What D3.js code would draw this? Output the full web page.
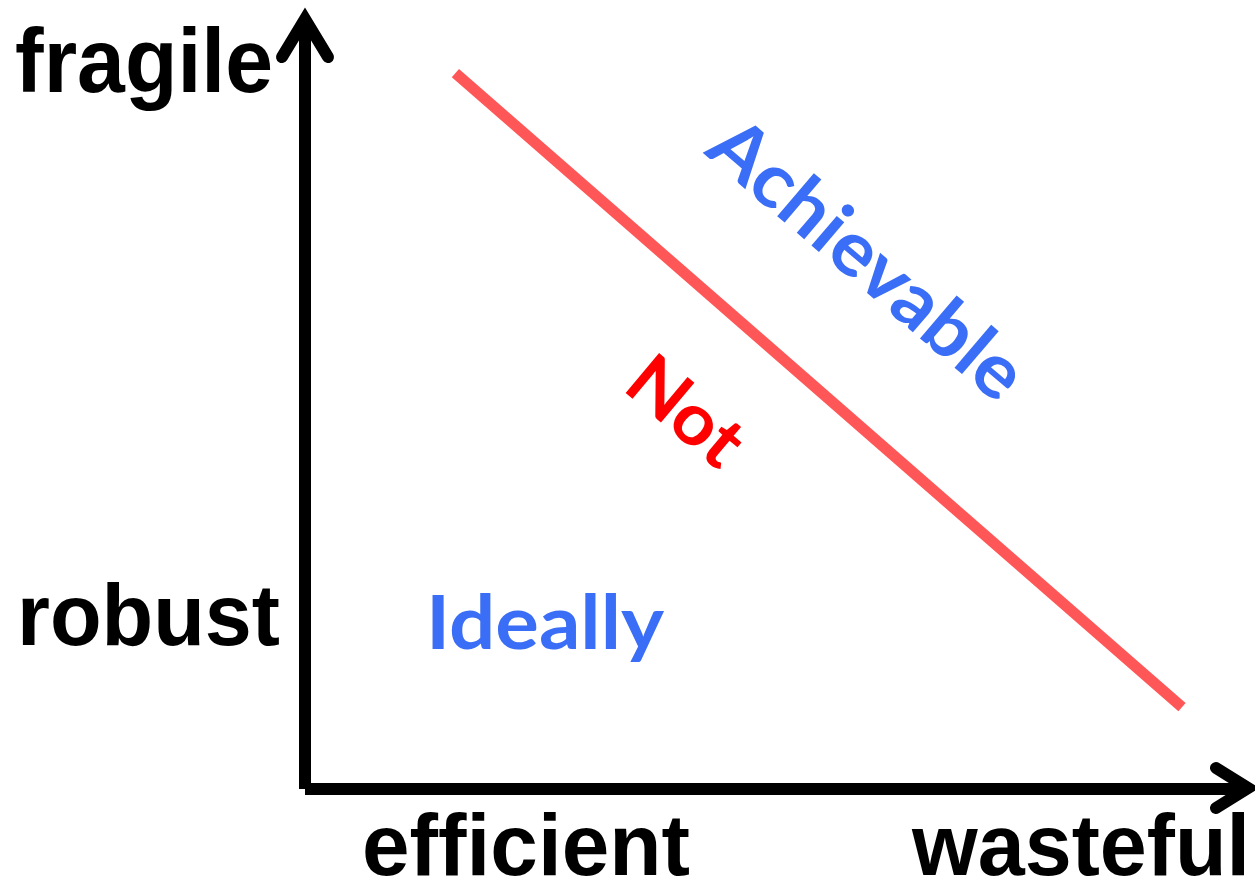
<!DOCTYPE html>
<html>
<head>
<meta charset="utf-8">
<script src="https://cdn.jsdelivr.net/npm/d3@7"></script>
<style>
  html, body { margin: 0; padding: 0; background: #ffffff; }
  svg { display: block; }
</style>
</head>
<body>
<svg id="chart" width="1255" height="879"></svg>
<script>
// ---- data ----
const axisLabelsY = ["fragile", "robust"];
const axisLabelsX = ["efficient", "wasteful"];
const regionLabels = ["Achievable", "Not", "Ideally"];
// frontier (efficiency vs fragility trade-off), in 0..100 units
const frontierX = [16, 93.3];
const frontierY = [91.9, 10.5];

// ---- layout ----
const svg = d3.select("#chart");
const x = d3.scaleLinear().domain([0, 100]).range([305, 1245]);
const y = d3.scaleLinear().domain([0, 100]).range([789, 10]);

// axes
svg.append("line")
  .attr("x1", x(0)).attr("x2", x(0))
  .attr("y1", y(0)).attr("y2", 19)
  .attr("stroke", "#000").attr("stroke-width", 12);
svg.append("line")
  .attr("x1", x(0)).attr("x2", 1248)
  .attr("y1", y(0)).attr("y2", y(0))
  .attr("stroke", "#000").attr("stroke-width", 12);

const arrow = d3.line();
svg.append("path")
  .attr("d", arrow([[282, 57], [305, 19], [328, 57]]))
  .attr("fill", "none").attr("stroke", "#000").attr("stroke-width", 12)
  .attr("stroke-linejoin", "miter").attr("stroke-linecap", "round");
svg.append("path")
  .attr("d", arrow([[1216, 768], [1248, 788], [1216, 808]]))
  .attr("fill", "none").attr("stroke", "#000").attr("stroke-width", 12)
  .attr("stroke-linejoin", "miter").attr("stroke-linecap", "round");

// frontier line
const frontier = frontierX.map((v, i) => [v, frontierY[i]]);
svg.append("path")
  .datum(frontier)
  .attr("d", d3.line().x(d => x(d[0])).y(d => y(d[1])))
  .attr("fill", "none")
  .attr("stroke", "#ff5757")
  .attr("stroke-width", 11)
  .attr("stroke-linecap", "butt");

// axis labels (black)
const blackFont = "'Liberation Sans', Arial, Helvetica, sans-serif";
const blackSpecs = [
  { t: axisLabelsY[0], x: 15, y: 92, size: 90, len: 258 },
  { t: axisLabelsY[1], x: 17, y: 645, size: 88, len: 263 },
  { t: axisLabelsX[0], x: 362, y: 875, size: 88, len: 328 },
  { t: axisLabelsX[1], x: 912, y: 875, size: 88, len: 338 }
];
svg.selectAll("text.axislab")
  .data(blackSpecs)
  .enter().append("text")
  .attr("class", "axislab")
  .attr("x", d => d.x).attr("y", d => d.y)
  .attr("font-family", blackFont)
  .attr("font-weight", "bold")
  .attr("font-size", d => d.size)
  .attr("textLength", d => d.len)
  .attr("lengthAdjust", "spacingAndGlyphs")
  .attr("fill", "#000")
  .text(d => d.t);

// region labels
const blueFont = "Lato, 'Open Sans', sans-serif";
const regionSpecs = [
  { t: regionLabels[0], tx: 703, ty: 153, rot: 40.5, size: 76, len: 388, fill: "#3b6ef6" },
  { t: regionLabels[1], tx: 621, ty: 389, rot: 40, size: 72, len: 128, fill: "#ff0000" },
  { t: regionLabels[2], tx: 426, ty: 649, rot: 0, size: 75, len: 238, fill: "#3b6ef6" }
];
svg.selectAll("text.region")
  .data(regionSpecs)
  .enter().append("text")
  .attr("class", "region")
  .attr("transform", d => `translate(${d.tx},${d.ty}) rotate(${d.rot})`)
  .attr("font-family", blueFont)
  .attr("font-weight", "bold")
  .attr("font-size", d => d.size)
  .attr("textLength", d => d.len)
  .attr("lengthAdjust", "spacingAndGlyphs")
  .attr("fill", d => d.fill)
  .text(d => d.t);
</script>
</body>
</html>
